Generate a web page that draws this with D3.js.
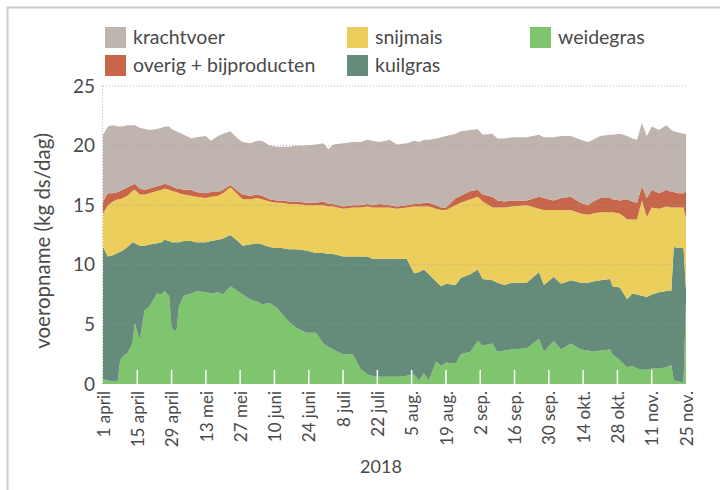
<!DOCTYPE html>
<html>
<head>
<meta charset="utf-8">
<script src="https://cdn.jsdelivr.net/npm/d3@7"></script>
<style>
  body { margin: 0; background: #fff; }
  text { font-family: Lato, "Open Sans", sans-serif; fill: #4a4a4a; }
</style>
</head>
<body>
<div id="chart"></div>
<script>
// day offsets from 1 april 2018
const days = [0, 2, 4, 6, 7, 8, 10, 12, 13, 15, 17, 19, 22, 24, 25, 27, 28, 30, 31, 33,
  36, 38, 42, 44, 47, 49, 52, 55, 57, 60, 63, 65, 68, 71, 73, 76, 79, 83, 87, 90,
  92, 94, 98, 102, 105, 108, 110, 113, 117, 120, 124, 127, 129, 131, 133, 136, 138, 140, 144, 146,
  150, 153, 155, 159, 161, 164, 167, 173, 178, 180, 184, 187, 191, 195, 198, 200, 203, 207, 208, 211,
  214, 216, 218, 220, 222, 224, 227, 230, 232, 233, 235, 237, 238]

const weidegras = [0.4, 0.3, 0.2, 0.2, 2.0, 2.3, 2.6, 3.4, 5.1, 3.7, 6.2, 6.5, 7.6, 7.5, 7.8, 7.4, 4.7, 4.4, 6.5, 7.4,
  7.6, 7.8, 7.7, 7.6, 7.7, 7.5, 8.2, 7.8, 7.5, 7.1, 6.9, 6.7, 6.8, 6.4, 5.9, 5.2, 4.7, 4.3, 4.3, 3.4,
  3.1, 2.9, 2.5, 2.5, 1.3, 0.8, 0.7, 0.6, 0.6, 0.6, 0.7, 0.8, 0.3, 0.9, 0.3, 1.9, 1.5, 1.8, 1.7, 2.5,
  2.7, 3.6, 3.2, 3.4, 2.7, 2.8, 2.9, 3.0, 3.8, 2.7, 3.6, 2.9, 3.4, 2.9, 2.8, 2.7, 2.8, 2.9, 2.5, 2.0,
  1.4, 1.5, 1.3, 1.2, 1.2, 1.3, 1.3, 1.4, 1.6, 0.3, 0.2, 0.1, 7.0]

const kuilgras = [11.1, 10.4, 10.6, 10.8, 9.1, 8.9, 8.9, 8.5, 6.7, 7.9, 5.4, 5.2, 4.2, 4.4, 4.3, 4.6, 7.2, 7.5, 5.4, 4.6,
  4.4, 4.1, 4.2, 4.4, 4.4, 4.7, 4.3, 4.2, 4.1, 4.6, 4.9, 5.0, 4.7, 5.0, 5.5, 6.1, 6.6, 6.9, 6.7, 7.6,
  7.8, 8.0, 8.2, 8.2, 9.4, 9.9, 9.8, 9.9, 9.9, 9.9, 9.8, 8.5, 9.1, 8.7, 8.9, 6.7, 6.7, 6.6, 6.6, 6.4,
  6.5, 6.0, 5.6, 5.3, 5.8, 5.5, 5.6, 5.5, 5.6, 5.6, 5.4, 5.5, 5.3, 5.6, 5.7, 5.9, 5.9, 5.9, 5.7, 6.1,
  5.7, 6.1, 6.2, 6.2, 6.1, 6.2, 6.4, 6.4, 6.2, 11.2, 11.2, 11.3, 0.9]

const snijmais = [2.8, 4.3, 4.5, 4.5, 4.4, 4.4, 4.3, 4.3, 4.5, 4.3, 4.3, 4.3, 4.4, 4.4, 4.3, 4.3, 4.3, 4.2, 4.1, 3.9,
  3.8, 3.8, 3.7, 3.7, 3.7, 3.8, 4.0, 3.9, 3.9, 3.8, 3.8, 3.8, 3.8, 3.8, 3.8, 3.8, 3.8, 3.8, 4.0, 4.0,
  4.0, 4.0, 4.0, 4.1, 4.1, 4.2, 4.3, 4.3, 4.3, 4.2, 4.3, 5.6, 5.5, 5.3, 5.7, 6.1, 6.4, 6.2, 6.7, 6.3,
  6.3, 6.1, 6.5, 6.1, 6.3, 6.5, 6.4, 6.5, 5.3, 6.3, 5.6, 6.2, 5.9, 5.8, 5.7, 5.7, 5.7, 5.6, 6.2, 6.2,
  6.7, 6.2, 6.3, 8.0, 6.7, 7.3, 7.0, 7.1, 7.0, 3.3, 3.4, 3.4, 6.0]

const overig = [1.0, 1.0, 0.7, 0.6, 0.7, 0.7, 0.7, 0.5, 0.5, 0.5, 0.4, 0.4, 0.4, 0.4, 0.4, 0.4, 0.4, 0.3, 0.4, 0.4,
  0.5, 0.4, 0.4, 0.4, 0.3, 0.3, 0.2, 0.3, 0.4, 0.3, 0.3, 0.3, 0.2, 0.2, 0.2, 0.2, 0.2, 0.2, 0.2, 0.3,
  0.2, 0.2, 0.2, 0.2, 0.2, 0.2, 0.2, 0.3, 0.2, 0.2, 0.2, 0.2, 0.2, 0.3, 0.3, 0.3, 0.2, 0.2, 0.6, 0.6,
  0.7, 0.6, 0.6, 0.9, 0.6, 0.5, 0.5, 0.4, 1.0, 1.0, 0.8, 1.0, 1.1, 0.9, 0.8, 1.0, 1.2, 1.2, 1.1, 1.1,
  1.7, 1.5, 1.4, 1.2, 1.6, 1.5, 1.3, 1.4, 1.3, 1.3, 1.2, 1.2, 2.3]

const krachtvoer = [5.6, 5.6, 5.7, 5.5, 5.4, 5.3, 5.2, 5.0, 4.9, 5.1, 5.1, 4.9, 4.8, 4.8, 4.8, 4.9, 4.8, 4.8, 4.7, 4.6,
  4.3, 4.6, 4.8, 4.3, 4.7, 4.7, 4.5, 4.4, 4.4, 4.4, 4.5, 4.6, 4.5, 4.5, 4.5, 4.6, 4.7, 4.8, 4.9, 4.9,
  4.6, 5.0, 5.3, 5.3, 5.3, 5.4, 5.4, 5.2, 5.5, 5.2, 5.2, 5.3, 5.2, 5.3, 5.3, 5.6, 5.9, 6.0, 5.4, 5.4,
  5.1, 5.1, 5.0, 5.3, 5.2, 5.3, 5.3, 5.3, 5.2, 5.1, 5.3, 5.2, 5.1, 5.3, 5.3, 5.2, 5.2, 5.3, 5.4, 5.6,
  5.3, 5.3, 5.3, 5.3, 5.2, 5.3, 5.3, 5.4, 5.2, 5.1, 5.1, 5.0, 4.8]

const tickDays = [0, 14, 28, 42, 56, 70, 84, 98, 112, 126, 140, 154, 168, 182, 196, 210, 224, 238]
const tickLabels = ['1 april', '15 april', '29 april', '13 mei', '27 mei', '10 juni', '24 juni', '8 juli',
  '22 juli', '5 aug.', '19 aug.', '2 sep.', '16 sep.', '30 sep.', '14 okt.', '28 okt.', '11 nov.', '25 nov.']
const yTicks = [0, 5, 10, 15, 20, 25]

const keys = ['weidegras', 'kuilgras', 'snijmais', 'overig', 'krachtvoer']
const labels = {
  weidegras: 'weidegras', kuilgras: 'kuilgras', snijmais: 'snijmais',
  overig: 'overig + bijproducten', krachtvoer: 'krachtvoer'
}
const colors = {
  weidegras: '#7fc56e', kuilgras: '#658c7a', snijmais: '#ecce5d',
  overig: '#c8664a', krachtvoer: '#c0b5ae'
}

const start = new Date(Date.UTC(2018, 3, 1))
const dayDate = d => d3.utcDay.offset(start, d)

const rows = days.map((d, i) => ({
  date: dayDate(d),
  weidegras: weidegras[i], kuilgras: kuilgras[i], snijmais: snijmais[i],
  overig: overig[i], krachtvoer: krachtvoer[i]
}))

const svgWidth = 720
const svgHeight = 490
const plotLeft = 103
const plotRight = 686
const plotTop = 86
const plotBottom = 384

const svg = d3.select('#chart').append('svg')
  .attr('width', svgWidth)
  .attr('height', svgHeight)

// frame
svg.append('rect')
  .attr('x', 7.5).attr('y', 7.5)
  .attr('width', 800).attr('height', 600)
  .attr('fill', 'none')
  .attr('stroke', '#cccccc')
  .attr('stroke-width', 2)

const x = d3.scaleUtc()
  .domain([dayDate(0), dayDate(238)])
  .range([plotLeft, plotRight])
const y = d3.scaleLinear()
  .domain([0, 25])
  .range([plotBottom, plotTop])

const series = d3.stack().keys(keys)(rows)

const area = d3.area()
  .x(d => x(d.data.date))
  .y0(d => y(d[0]))
  .y1(d => y(d[1]))

svg.append('g')
  .selectAll('path')
  .data(series)
  .join('path')
    .attr('fill', s => colors[s.key])
    .attr('d', area)

// grid lines on top
svg.append('g')
  .selectAll('line')
  .data(yTicks.filter(t => t > 0))
  .join('line')
    .attr('x1', plotLeft).attr('x2', plotRight + 1)
    .attr('y1', t => y(t)).attr('y2', t => y(t))
    .attr('stroke', '#999')
    .attr('stroke-opacity', 0.7)
    .attr('stroke-dasharray', '1,2')
svg.append('line')
  .attr('x1', plotLeft - 0.5).attr('x2', plotLeft - 0.5)
  .attr('y1', plotTop).attr('y2', plotBottom)
  .attr('stroke', '#999')
  .attr('stroke-opacity', 0.7)
  .attr('stroke-dasharray', '1,2')

// x axis: white ticks inside, rotated labels below
const xAxis = d3.axisBottom(x)
  .tickValues(tickDays.map(dayDate))
  .tickFormat((d, i) => tickLabels[i])
  .tickSize(0)
const gx = svg.append('g')
  .attr('transform', `translate(0,${plotBottom})`)
  .call(xAxis)
gx.select('.domain').remove()
gx.selectAll('.tick text')
  .attr('transform', 'rotate(-90)')
  .attr('text-anchor', 'end')
  .attr('x', -7)
  .attr('y', 0)
  .attr('dy', '0.36em')
  .style('font-size', '17px')
  .style('font-family', 'Lato, sans-serif')
  .attr('fill', '#4a4a4a')

svg.append('g')
  .selectAll('line')
  .data(tickDays.slice(1, -1))
  .join('line')
    .attr('x1', d => x(dayDate(d))).attr('x2', d => x(dayDate(d)))
    .attr('y1', plotBottom - 14).attr('y2', plotBottom)
    .attr('stroke', '#fff')
    .attr('stroke-width', 1.5)

// y axis
const gy = svg.append('g')
  .attr('transform', `translate(${plotLeft},0)`)
  .call(d3.axisLeft(y).tickValues(yTicks).tickSize(0).tickPadding(8))
gy.select('.domain').remove()
gy.selectAll('.tick text')
  .style('font-size', '19px')
  .style('font-family', 'Lato, sans-serif')
  .attr('fill', '#4a4a4a')

svg.append('text')
  .attr('transform', 'translate(50,241) rotate(-90)')
  .attr('text-anchor', 'middle')
  .style('font-size', '20.5px')
  .text('voeropname (kg ds/dag)')

svg.append('text')
  .attr('x', 381).attr('y', 473)
  .attr('text-anchor', 'middle')
  .style('font-size', '18px')
  .text('2018')

// legend
const legendItems = [
  { key: 'krachtvoer', x: 105, y: 27 },
  { key: 'snijmais', x: 347, y: 27 },
  { key: 'weidegras', x: 530, y: 27 },
  { key: 'overig', x: 105, y: 55 },
  { key: 'kuilgras', x: 347, y: 55 }
]
const legend = svg.append('g')
  .selectAll('g')
  .data(legendItems)
  .join('g')
    .attr('transform', d => `translate(${d.x},${d.y})`)
legend.append('rect')
  .attr('width', 21).attr('height', 21)
  .attr('fill', d => colors[d.key])
legend.append('text')
  .attr('x', 28).attr('y', 17)
  .style('font-size', '19.5px')
  .text(d => labels[d.key])
</script>
</body>
</html>
